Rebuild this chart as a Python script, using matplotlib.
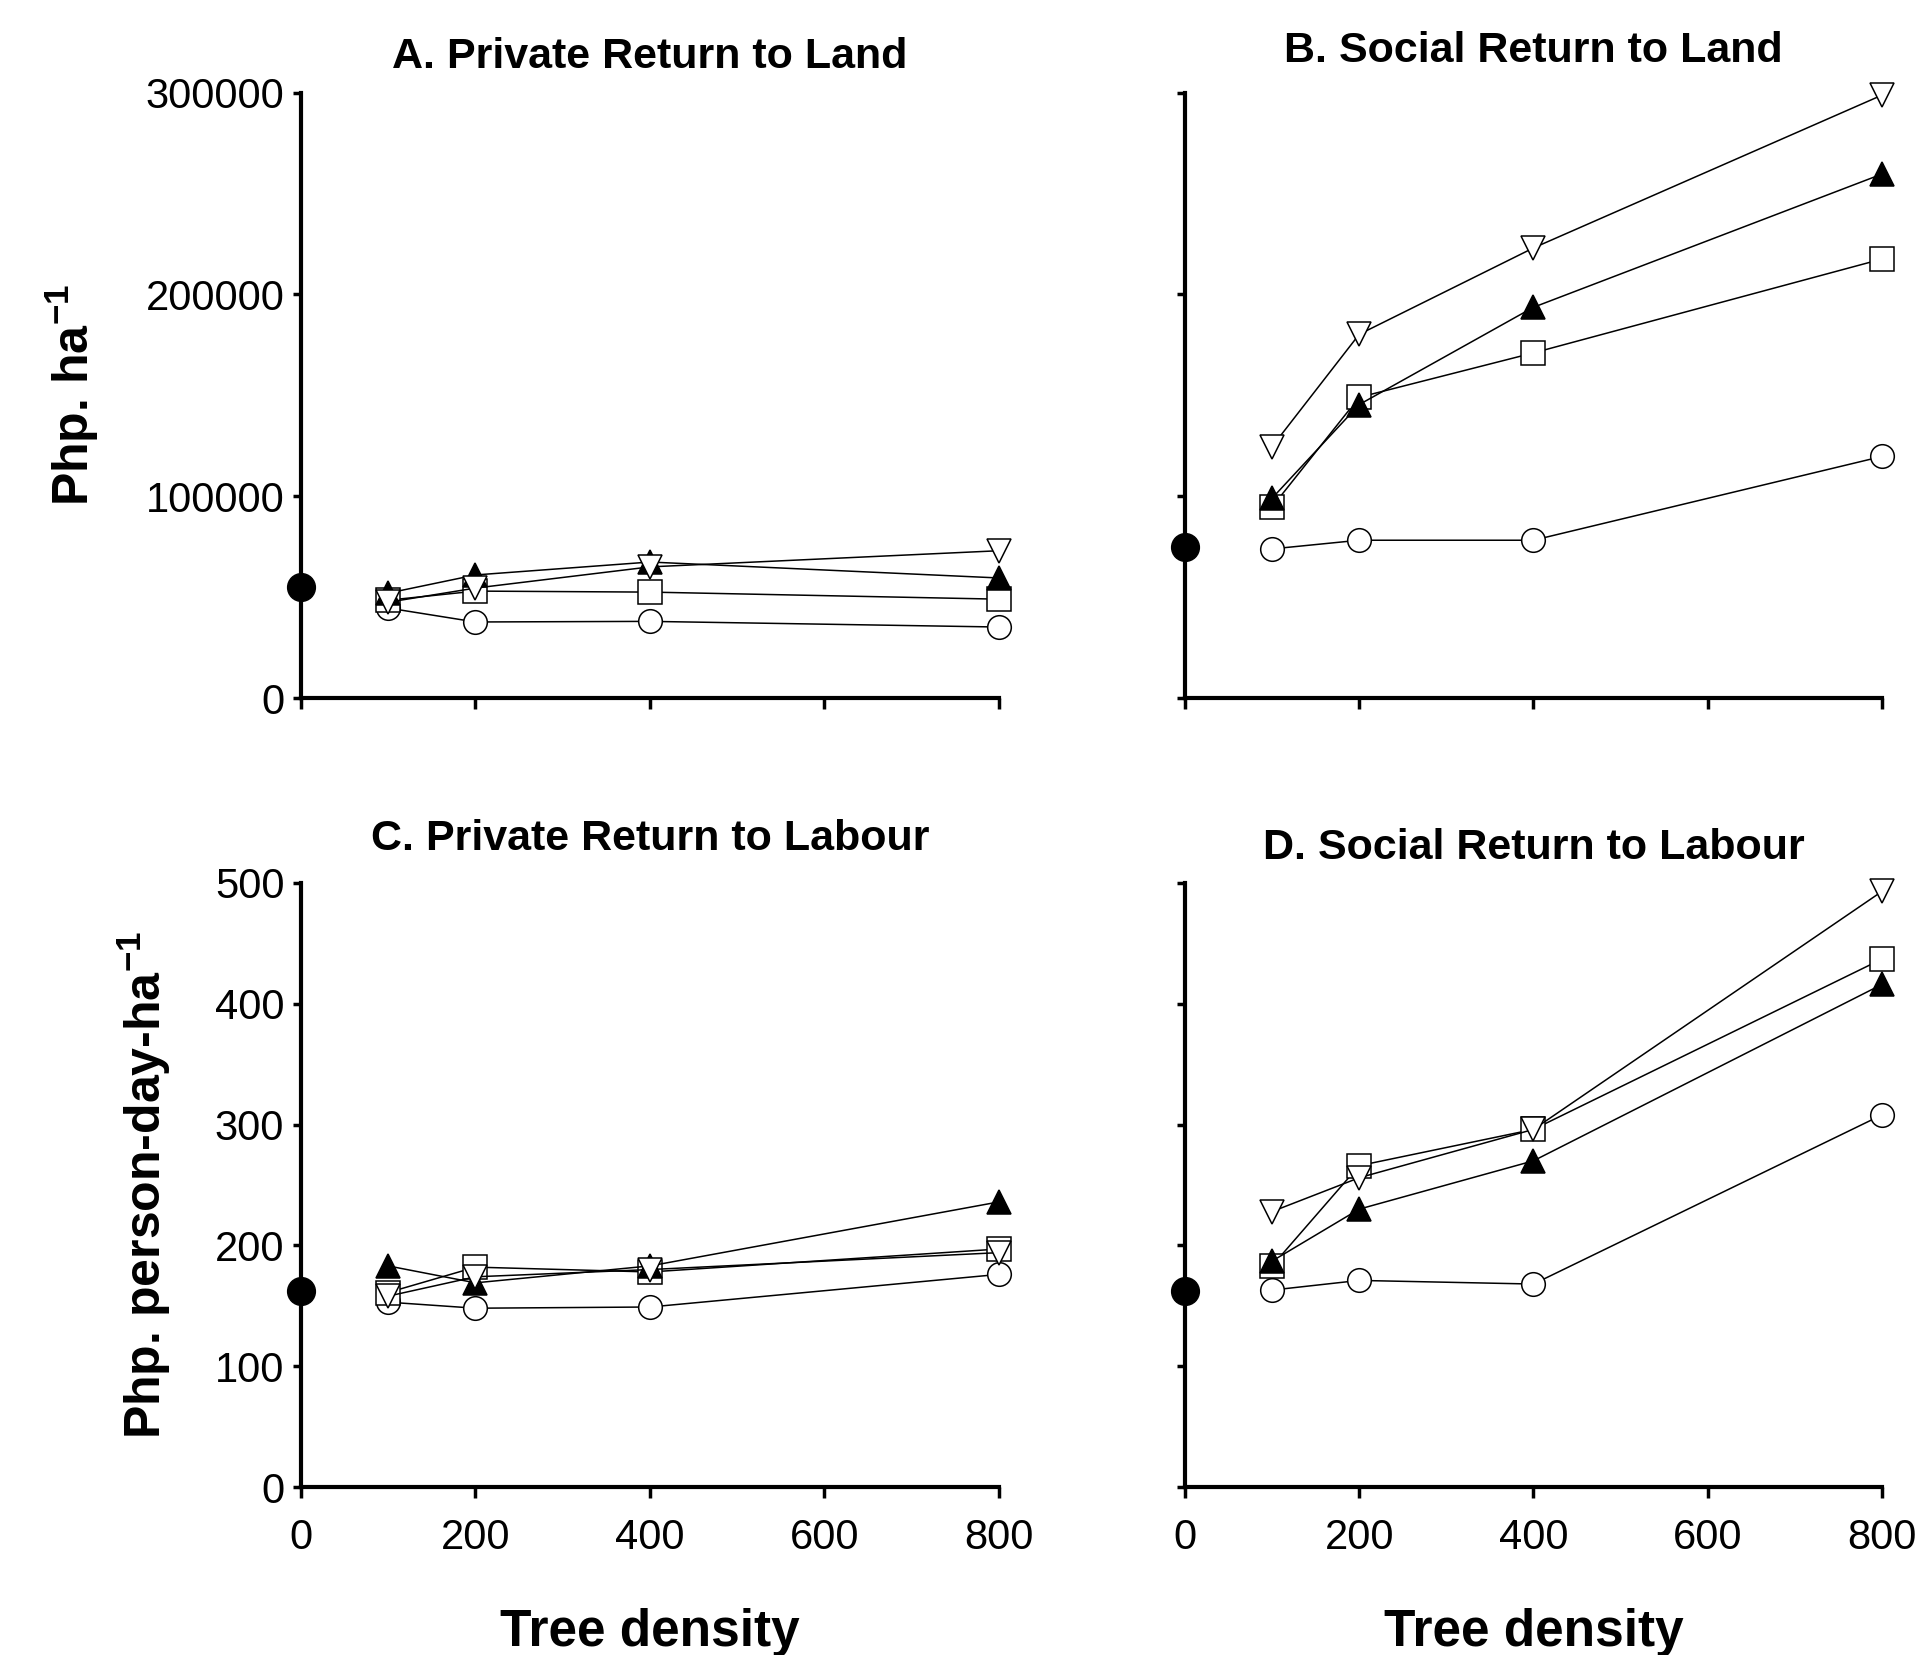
import matplotlib
matplotlib.use("Agg")
import matplotlib.pyplot as plt

plt.rcParams["font.family"] = ["Liberation Sans", "DejaVu Sans"]
plt.rcParams["mathtext.fontset"] = "custom"
plt.rcParams["mathtext.rm"] = "Liberation Sans:bold"
plt.rcParams["mathtext.bf"] = "Liberation Sans:bold"

# tree densities for the treatments, plus the treeless baseline at 0
density = [100, 200, 400, 800]
baseline_x = 0

# A. private return to land (Php/ha)
a_base = 55000
a_circle = [44600, 37700, 38000, 35200]
a_square = [48500, 53000, 52500, 49000]
a_triangle = [52000, 61000, 67400, 59500]
a_invtri = [47500, 54500, 65000, 73000]

# B. social return to land (Php/ha)
b_base = 75000
b_circle = [73900, 78200, 78200, 119700]
b_square = [94700, 149000, 171000, 217500]
b_triangle = [99000, 145400, 193600, 259600]
b_invtri = [124600, 180200, 223000, 298700]

# C. private return to labour (Php/person-day/ha)
c_base = 162
c_circle = [153, 148, 149, 176]
c_square = [161, 182, 178, 197]
c_triangle = [183, 169, 183, 236]
c_invtri = [158, 174, 180, 194]

# D. social return to labour (Php/person-day/ha)
d_base = 162
d_circle = [163, 171, 168, 308]
d_square = [183, 266, 296, 437]
d_triangle = [187, 230, 270, 416]
d_invtri = [228, 256, 296, 493]

x_ticks = [0, 200, 400, 600, 800]
land_ticks = [0, 100000, 200000, 300000]
labour_ticks = [0, 100, 200, 300, 400, 500]

fig = plt.figure(figsize=(19.33, 16.55), dpi=100)

ax_a = fig.add_axes([0.1557, 0.5782, 0.3611, 0.3659])
ax_b = fig.add_axes([0.6130, 0.5782, 0.3606, 0.3659])
ax_c = fig.add_axes([0.1557, 0.1015, 0.3611, 0.3650])
ax_d = fig.add_axes([0.6130, 0.1015, 0.3606, 0.3650])

panels = [
    (ax_a, a_base, [a_circle, a_square, a_triangle, a_invtri], "A. Private Return to Land", 18),
    (ax_b, b_base, [b_circle, b_square, b_triangle, b_invtri], "B. Social Return to Land", 22),
    (ax_c, c_base, [c_circle, c_square, c_triangle, c_invtri], "C. Private Return to Labour", 24),
    (ax_d, d_base, [d_circle, d_square, d_triangle, d_invtri], "D. Social Return to Labour", 17),
]

# marker style per series: circle, square, filled triangle, open inverted triangle
styles = [("o", "white"), ("s", "white"), ("^", "black"), ("v", "white")]

for ax, base, series, title, tpad in panels:
    for vals, (mk, fc) in zip(series, styles):
        ax.plot(density, vals, color="black", lw=1.1, marker=mk, ms=17,
                mfc=fc, mec="black", mew=1.1, clip_on=False, zorder=3)
    ax.plot([baseline_x], [base], "o", color="black", ms=20, clip_on=False, zorder=4)

    ax.set_xlim(0, 800)
    ax.set_xticks(x_ticks)
    for side in ["top", "right"]:
        ax.spines[side].set_visible(False)
    for side in ["left", "bottom"]:
        ax.spines[side].set_linewidth(3)
    ax.tick_params(axis="both", direction="out", width=2.5, labelsize=30)
    ax.tick_params(axis="x", length=8, pad=14)
    ax.tick_params(axis="y", length=6, pad=6)
    ax.set_title(title, fontsize=31, fontweight="bold", pad=tpad)

for ax in [ax_a, ax_b]:
    ax.set_ylim(0, 300000)
    ax.set_yticks(land_ticks)
    ax.tick_params(axis="x", labelbottom=False)

for ax in [ax_c, ax_d]:
    ax.set_ylim(0, 500)
    ax.set_yticks(labour_ticks)
    ax.set_xlabel("Tree density", fontsize=37, fontweight="bold", labelpad=36)

ax_b.tick_params(axis="y", labelleft=False)
ax_d.tick_params(axis="y", labelleft=False)

ax_a.set_ylabel("Php. ha$^{-1}$", fontsize=36, fontweight="bold", labelpad=32)
ax_c.set_ylabel("Php. person-day-ha$^{-1}$", fontsize=36, fontweight="bold", labelpad=30)

fig.savefig("out.png", dpi=100)
